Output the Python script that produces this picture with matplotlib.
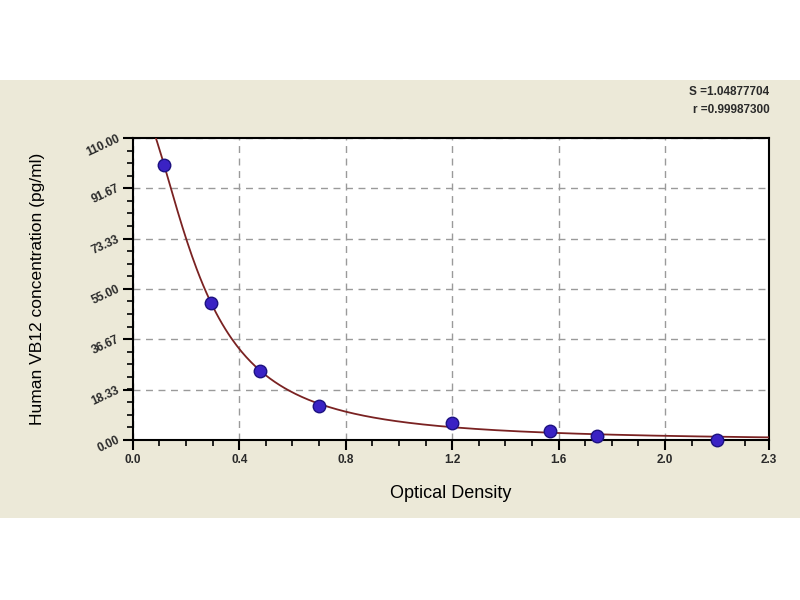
import matplotlib
matplotlib.use("Agg")

import matplotlib.pyplot as plt
import numpy as np
from matplotlib.patches import Rectangle
from matplotlib.ticker import MultipleLocator

# standard points
od = [0.118, 0.295, 0.479, 0.700, 1.201, 1.569, 1.744, 2.194]
conc = [100.0, 50.0, 25.0, 12.5, 6.25, 3.12, 1.56, 0.0]

x_max = 2.39
x_ticks = [0.0, 0.4, 0.8, 1.2, 1.6, 2.0, 2.39]
x_tick_labels = ["0.0", "0.4", "0.8", "1.2", "1.6", "2.0", "2.3"]
y_ticks = [0.0, 18.33, 36.67, 55.0, 73.33, 91.67, 110.0]
y_tick_labels = ["0.00", "18.33", "36.67", "55.00", "73.33", "91.67", "110.00"]

fit_text = ["S =1.04877704", "r =0.99987300"]

BEIGE = "#ece9d8"
DOT = "#3a22c4"
CURVE = "#7a2222"
FONT = "Liberation Sans"


def fit_4pl(x, y):
    """4PL fit: grid over slope/midpoint, top/bottom by least squares."""
    x = np.asarray(x)
    y = np.asarray(y)
    best = None
    for b in np.linspace(0.6, 4.0, 120):
        for c in np.geomspace(0.05, 3.0, 160):
            g = 1.0 / (1.0 + (x / c) ** b)
            A = np.column_stack([g, 1.0 - g])
            coef, *_ = np.linalg.lstsq(A, y, rcond=None)
            err = np.sum((A @ coef - y) ** 2)
            if best is None or err < best[0]:
                best = (err, coef[0], b, c, coef[1])
    _, a, b, c, d = best
    return lambda t: d + (a - d) / (1.0 + (t / c) ** b)


curve = fit_4pl(od, conc)
xs = np.linspace(0.001, x_max, 400)

fig = plt.figure(figsize=(8, 6), dpi=100)
fig.patch.set_facecolor("white")
fig.patches.append(Rectangle((0, 0.137), 1, 0.73, transform=fig.transFigure,
                             facecolor=BEIGE, edgecolor="none", zorder=-10))

ax = fig.add_axes([0.166, 0.267, 0.795, 0.503])
ax.set_zorder(1)
ax.set_facecolor("white")

ax.plot(xs, curve(xs), color=CURVE, linewidth=1.3, zorder=3)
ax.plot(od, conc, linestyle="none", marker="o", markersize=9,
        markerfacecolor=DOT, markeredgecolor="#1c1280", markeredgewidth=1,
        zorder=4, clip_on=False)

ax.set_xlim(0, x_max)
ax.set_ylim(0, 110)

ax.set_xticks(x_ticks)
ax.set_xticklabels(x_tick_labels, fontsize=8.5, color="#2a2a2a",
                   family=FONT, weight="bold")
ax.xaxis.set_minor_locator(MultipleLocator(0.1))

ax.set_yticks(y_ticks)
ax.set_yticklabels(y_tick_labels, fontsize=8.5, color="#2a2a2a",
                   family=FONT, weight="bold", rotation=25,
                   ha="right", va="center", rotation_mode="anchor")
ax.yaxis.set_minor_locator(MultipleLocator(110 / 24))

ax.tick_params(which="major", direction="out", length=7, width=1.5,
               color="black", pad=3)
ax.tick_params(which="minor", direction="out", length=4, width=1.2,
               color="black")

for side in ax.spines.values():
    side.set_linewidth(1.5)
    side.set_color("black")

ax.grid(True, which="major", color="#9a9a9a", linestyle=(0, (5, 4)),
        linewidth=1.0)
ax.set_axisbelow(True)

ax.set_xlabel("Optical Density", fontsize=13, family=FONT, labelpad=14)
ax.set_ylabel("Human VB12 concentration (pg/ml)", fontsize=12.5,
              family=FONT, labelpad=28)

fig.text(0.962, 0.847, fit_text[0], ha="right", va="center", fontsize=8.5,
         color="#2a2a2a", family=FONT, weight="bold")
fig.text(0.962, 0.817, fit_text[1], ha="right", va="center", fontsize=8.5,
         color="#2a2a2a", family=FONT, weight="bold")

fig.savefig("out.png", dpi=100, facecolor=fig.get_facecolor())
plt.close(fig)
